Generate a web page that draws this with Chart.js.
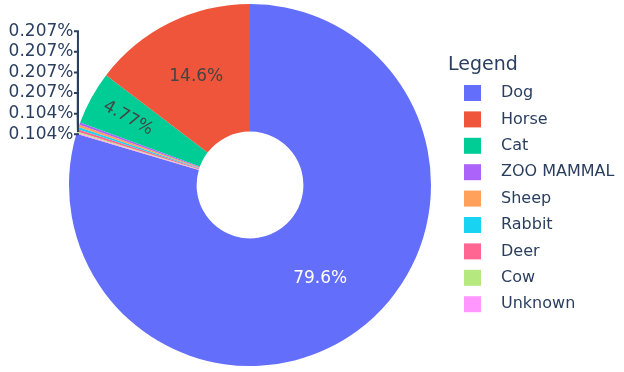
<!DOCTYPE html>
<html>
<head>
<meta charset="utf-8">
<script src="https://cdn.jsdelivr.net/npm/chart.js@4.4.1/dist/chart.umd.min.js"></script>
<style>
  html, body { margin: 0; padding: 0; background: #fff; }
  #wrap { width: 624px; height: 372px; position: relative; }
</style>
</head>
<body>
<div id="wrap"><canvas id="speciesChart"></canvas></div>
<script>
const categories = ['Dog', 'Horse', 'Cat', 'ZOO MAMMAL', 'Sheep', 'Rabbit', 'Deer', 'Cow', 'Unknown'];
const counts = [767, 141, 46, 2, 2, 2, 2, 1, 1];
const sliceColors = ['#636efa', '#EF553B', '#00cc96', '#ab63fa', '#FFA15A', '#19d3f3', '#FF6692', '#B6E880', '#FF97FF'];
const legendTitle = 'Legend';

const FONT = '"DejaVu Sans", Verdana, sans-serif';
const TEXT_COLOR = '#2a3f5f';

// plotly goes counter-clockwise: keep Dog first, the rest come in reverse
const drawOrder = [0].concat(categories.map((c, i) => i).slice(1).reverse());
const total = counts.reduce((a, b) => a + b, 0);

function pctText(v) {
    return (v / total * 100).toPrecision(3) + '%';
}

function isLight(hex) {
    const n = parseInt(hex.slice(1), 16);
    const r = (n >> 16) & 255, g = (n >> 8) & 255, b = n & 255;
    return (r * 299 + g * 587 + b * 114) / 1000 >= 128;
}

// percent labels, inside for big slices, stacked outside for tiny ones
const sliceLabels = {
    id: 'sliceLabels',
    afterDatasetsDraw(chart) {
        const ctx = chart.ctx;
        const arcs = chart.getDatasetMeta(0).data;
        const ds = chart.data.datasets[0];
        const small = [];
        ctx.save();
        ctx.font = '17px ' + FONT;
        ctx.textBaseline = 'middle';
        arcs.forEach((arc, i) => {
            const span = arc.endAngle - arc.startAngle;
            const mid = (arc.startAngle + arc.endAngle) / 2;
            const text = pctText(ds.data[i]);
            if (span < 0.05) {
                small.push({ arc, mid, text });
                return;
            }
            const w = ctx.measureText(text).width;
            ctx.fillStyle = isLight(ds.backgroundColor[i]) ? '#444' : '#fff';
            ctx.textAlign = 'center';
            if (span < 0.5) {
                // narrow slice -> radial text near the rim
                const r = arc.outerRadius - w / 2 - 15;
                let rot = mid;
                if (Math.cos(rot) < 0) rot += Math.PI;
                ctx.save();
                ctx.translate(arc.x + Math.cos(mid) * r, arc.y + Math.sin(mid) * r);
                ctx.rotate(rot);
                ctx.fillText(text, 0, 0);
                ctx.restore();
            } else {
                const r = (arc.innerRadius + arc.outerRadius) / 2 + (i === 0 ? 0 : 4);
                ctx.fillText(text, arc.x + Math.cos(mid) * r, arc.y + Math.sin(mid) * r);
            }
        });

        if (small.length) {
            const rims = small.map(s => ({
                x: s.arc.x + Math.cos(s.mid) * s.arc.outerRadius,
                y: s.arc.y + Math.sin(s.mid) * s.arc.outerRadius
            }));
            const lineX = rims.reduce((a, p) => a + p.x, 0) / rims.length;
            const baseY = rims[0].y + 1;
            const step = 20.6;
            ctx.strokeStyle = TEXT_COLOR;
            ctx.lineWidth = 2;
            ctx.fillStyle = TEXT_COLOR;
            ctx.textAlign = 'right';
            small.forEach((s, k) => {
                const y = baseY - k * step;
                ctx.beginPath();
                ctx.moveTo(lineX - 4, y);
                ctx.lineTo(lineX, y);
                ctx.lineTo(lineX, rims[k].y);
                ctx.stroke();
                ctx.fillText(s.text, lineX - 4.5, y);
            });
        }
        ctx.restore();
    }
};

// plotly-like legend box on the right
const sideLegend = {
    id: 'sideLegend',
    afterDraw(chart, args, opts) {
        const ctx = chart.ctx;
        ctx.save();
        ctx.textBaseline = 'middle';
        ctx.textAlign = 'left';
        ctx.fillStyle = TEXT_COLOR;
        ctx.font = '19px ' + FONT;
        ctx.fillText(legendTitle, opts.titleX, opts.titleY);
        ctx.font = '16px ' + FONT;
        categories.forEach((name, i) => {
            const y = opts.firstY + i * opts.rowGap;
            ctx.fillStyle = sliceColors[i];
            ctx.fillRect(opts.boxX, y - 8, 17, 16);
            ctx.fillStyle = TEXT_COLOR;
            ctx.fillText(name, opts.textX, y);
        });
        ctx.restore();
    }
};

const ctxPie = document.getElementById('speciesChart').getContext('2d');
const speciesChart = new Chart(ctxPie, {
    type: 'doughnut',
    data: {
        labels: drawOrder.map(i => categories[i]),
        datasets: [{
            data: drawOrder.map(i => counts[i]),
            backgroundColor: drawOrder.map(i => sliceColors[i]),
            borderWidth: 0,
            hoverOffset: 0
        }]
    },
    options: {
        responsive: true,
        maintainAspectRatio: false,
        animation: false,
        cutout: '29.5%',
        layout: { padding: { top: 4, bottom: 6, left: 0, right: 124 } },
        plugins: {
            legend: { display: false },
            tooltip: { enabled: false },
            sideLegend: { titleX: 448, titleY: 65, boxX: 464, textX: 501, firstY: 93, rowGap: 26.4 }
        }
    },
    plugins: [sliceLabels, sideLegend]
});
</script>
</body>
</html>
